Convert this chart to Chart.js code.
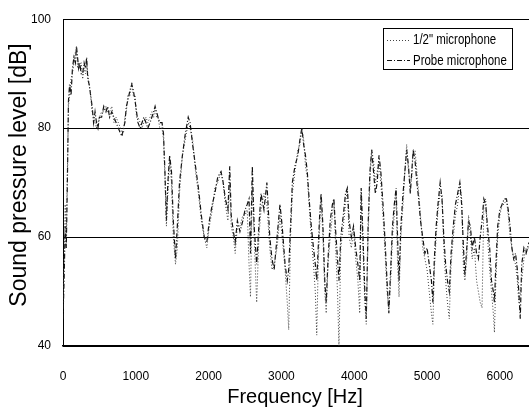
<!DOCTYPE html>
<html>
<head>
<meta charset="utf-8">
<script src="https://cdn.jsdelivr.net/npm/chart.js@4.4.1/dist/chart.umd.min.js"></script>
<style>
  html, body { margin: 0; padding: 0; background: #fff; }
  #wrap { position: relative; width: 529px; height: 408px; }
</style>
</head>
<body>
<div id="wrap"><canvas id="spl" width="529" height="408"></canvas></div>
<script>
// frequency points [Hz]
const freq = [
  0, 15, 30, 45, 60, 75, 90, 110, 130, 150,
  170, 185, 200, 215, 230, 250, 270, 290, 310, 325,
  340, 360, 380, 400, 420, 440, 460, 480, 500, 530,
  560, 590, 615, 640, 670, 700, 730, 760, 790, 810,
  830, 850, 870, 890, 920, 945, 965, 990, 1010, 1030,
  1060, 1085, 1110, 1140, 1165, 1195, 1220, 1245, 1265, 1285,
  1305, 1330, 1360, 1380, 1400, 1420, 1440, 1465, 1490, 1515,
  1545, 1570, 1600, 1640, 1680, 1720, 1745, 1780, 1820, 1860,
  1900, 1940, 1975, 2010, 2050, 2085, 2125, 2170, 2200, 2230,
  2265, 2290, 2310, 2340, 2365, 2395, 2430, 2470, 2500, 2530,
  2555, 2575, 2600, 2625, 2660, 2690, 2720, 2760, 2800, 2840,
  2870, 2900, 2940, 2980, 3010, 3050, 3080, 3100, 3125, 3150,
  3185, 3225, 3255, 3280, 3305, 3330, 3355, 3380, 3410, 3440,
  3465, 3485, 3505, 3525, 3545, 3570, 3595, 3615, 3640, 3670,
  3700, 3720, 3745, 3770, 3790, 3815, 3850, 3880, 3905, 3930,
  3960, 3990, 4020, 4050, 4075, 4095, 4120, 4145, 4165, 4190,
  4215, 4240, 4265, 4290, 4315, 4340, 4365, 4395, 4420, 4450,
  4475, 4500, 4525, 4550, 4575, 4595, 4615, 4640, 4670, 4695,
  4720, 4745, 4770, 4790, 4810, 4835, 4860, 4885, 4910, 4940,
  4970, 5000, 5030, 5060, 5080, 5100, 5125, 5150, 5180, 5205,
  5230, 5255, 5280, 5305, 5330, 5360, 5390, 5420, 5450, 5475,
  5500, 5520, 5545, 5570, 5595, 5620, 5650, 5680, 5705, 5730,
  5755, 5780, 5805, 5830, 5860, 5885, 5910, 5925, 5945, 5970,
  6000, 6030, 6060, 6090, 6115, 6140, 6165, 6190, 6215, 6240,
  6260, 6280, 6300, 6330, 6360, 6400
];

// probe microphone [dB]
const probeLevel = [
  45, 52, 62, 58, 70, 85, 88, 86, 91, 93,
  92, 95, 93, 91, 92, 90, 90, 92, 91, 93,
  89, 88, 86, 84, 81, 83, 81, 80, 82, 82,
  84, 83, 84, 82, 83, 82, 81, 80, 79, 78.5,
  80, 81, 84, 85, 87, 88, 87, 85, 83, 81,
  80, 81, 82, 81, 80, 81, 82, 83, 84, 83,
  82, 81, 81, 79, 72, 63, 70, 75, 72, 63,
  56, 62, 70, 75, 79, 82, 81, 77, 73, 69,
  64, 60, 59, 63, 66, 68, 71, 72, 70, 67,
  65, 73, 64, 61, 59, 63, 61, 63, 65, 66,
  67, 57, 73, 62, 55, 62, 68, 65, 70, 60,
  56, 54, 60, 66, 62, 55, 52, 54, 62, 70,
  73, 75, 78, 80, 77, 75, 72, 67, 62, 58,
  55, 52, 58, 64, 68, 62, 52, 48, 56, 63,
  66, 67, 61, 56, 52, 60, 64, 68, 69, 63,
  60, 62, 58, 55, 52, 69, 60, 50, 45, 62,
  72, 76, 72, 68, 70, 75, 72, 66, 60, 52,
  46, 54, 62, 66, 69, 60, 52, 62, 68, 72,
  76, 73, 68, 72, 76, 74, 70, 67, 63, 60,
  57, 58, 55, 52, 48, 56, 62, 66, 70, 67,
  60, 55, 52, 50, 57, 62, 66, 68, 70, 66,
  58, 53, 58, 63, 62, 58, 60, 57, 56, 60,
  63, 67, 66, 62, 58, 52, 50, 48, 55, 62,
  65, 66, 67, 67, 65, 62, 58, 56, 57, 54,
  50, 45, 55, 58, 57, 59
];

// 1/2" microphone [dB]
const halfInchLevel = [
  48, 56, 66, 60, 72, 84, 86, 89, 90, 92,
  94, 95, 91, 92, 91, 92, 89, 91, 90, 92,
  90, 88, 86, 83, 82, 81, 80, 81, 82, 83,
  83, 84, 83, 83, 84, 81, 82, 81, 80, 79,
  79, 82, 83, 86, 86, 88.5, 86, 86, 82, 82,
  81, 80, 81, 82, 81, 82, 83, 82, 84, 82,
  82, 80, 80, 78, 71, 62, 68, 74, 70, 60,
  55, 58, 68, 75, 78, 81, 80, 78, 72, 68,
  63, 60, 58, 62, 65, 69, 70, 72, 70, 66,
  63, 70, 62, 60, 57, 62, 62, 64, 64, 65,
  55, 49, 70, 60, 48, 60, 65, 68, 66, 58,
  54, 55, 58, 64, 60, 54, 48, 43, 60, 68,
  72, 76, 77, 80, 78, 73, 71, 66, 60, 55,
  50, 42, 55, 62, 67, 60, 50, 46, 55, 60,
  64, 67, 58, 50, 40, 58, 62, 66, 69, 60,
  58, 61, 56, 52, 46, 68, 58, 48, 44, 60,
  70, 76, 74, 70, 72, 74, 70, 64, 58, 50,
  47, 52, 60, 64, 68, 55, 49, 60, 66, 72,
  77, 72, 70, 71, 76, 76, 72, 68, 64, 58,
  56, 54, 50, 46, 44, 54, 60, 65, 68, 68,
  58, 52, 48, 45, 55, 60, 64, 66, 70, 67,
  54, 52, 56, 64, 60, 56, 58, 52, 50, 48,
  47, 66, 67, 60, 54, 50, 46, 42.5, 52, 60,
  64, 66, 66, 67, 64, 60, 58, 56, 55, 52,
  48, 50, 52, 56, 58, 58
];

const xTicks = [0, 1000, 2000, 3000, 4000, 5000, 6000];
const yTicks = [40, 60, 80, 100];
const seriesNames = ['1/2" microphone', 'Probe microphone'];

const sans = '"Liberation Sans", Arial, sans-serif';

function pts(levels) {
  return freq.map((f, i) => ({ x: f, y: levels[i] }));
}

// legend box + axis titles drawn on top
const overlay = {
  id: 'overlay',
  afterDraw(chart) {
    const ctx = chart.ctx;
    ctx.save();
    // legend
    ctx.lineWidth = 1;
    ctx.strokeStyle = '#000';
    ctx.setLineDash([]);
    ctx.strokeRect(383.5, 28.5, 129, 41);
    ctx.strokeStyle = '#444';
    ctx.setLineDash([1, 2]);
    ctx.beginPath(); ctx.moveTo(387, 40.5); ctx.lineTo(410, 40.5); ctx.stroke();
    ctx.strokeStyle = '#111';
    ctx.setLineDash([5, 2, 1, 2]);
    ctx.beginPath(); ctx.moveTo(387, 60.5); ctx.lineTo(410, 60.5); ctx.stroke();
    ctx.setLineDash([]);
    ctx.fillStyle = '#000';
    ctx.font = '14px ' + sans;
    ctx.textBaseline = 'middle';
    ctx.textAlign = 'left';
    // squeeze horizontally, the original uses a narrow face
    ctx.save();
    ctx.translate(413, 0);
    ctx.scale(0.82, 1);
    ctx.fillText(seriesNames[0], 0, 40);
    ctx.fillText(seriesNames[1], 0, 61);
    ctx.restore();
    // axis titles
    ctx.textAlign = 'center';
    ctx.textBaseline = 'alphabetic';
    ctx.font = '20px ' + sans;
    ctx.fillText('Frequency [Hz]', 295, 403);
    ctx.translate(26, 175);
    ctx.rotate(-Math.PI / 2);
    ctx.font = '23px ' + sans;
    ctx.fillText('Sound pressure level [dB]', 0, 0);
    ctx.restore();
  }
};

new Chart(document.getElementById('spl'), {
  type: 'line',
  data: {
    datasets: [
      {
        label: seriesNames[0],
        data: pts(halfInchLevel),
        borderColor: '#3a3a3a',
        borderWidth: 1,
        borderDash: [1, 2],
        pointRadius: 0,
        tension: 0
      },
      {
        label: seriesNames[1],
        data: pts(probeLevel),
        borderColor: '#111',
        borderWidth: 1.2,
        borderDash: [5, 2, 1, 2],
        pointRadius: 0,
        tension: 0
      }
    ]
  },
  options: {
    responsive: false,
    animation: false,
    layout: { padding: { top: 9, right: 0, left: 0, bottom: 0 } },
    plugins: { legend: { display: false }, tooltip: { enabled: false } },
    scales: {
      x: {
        type: 'linear',
        min: 0,
        max: 6400,
        afterBuildTicks: s => { s.ticks = xTicks.map(v => ({ value: v })); },
        afterFit: s => { s.height = 62; },
        grid: { display: false },
        border: { display: true, color: '#000', width: 1.5 },
        ticks: { color: '#000', font: { family: sans, size: 12 }, padding: 15, maxRotation: 0, callback: v => String(v) }
      },
      y: {
        min: 40,
        max: 100,
        afterBuildTicks: s => { s.ticks = yTicks.map(v => ({ value: v })); },
        afterFit: s => { s.width = 63; },
        grid: { color: '#000', lineWidth: 1, drawTicks: false },
        border: { display: true, color: '#000', width: 1 },
        ticks: { color: '#000', font: { family: sans, size: 12 }, padding: 12, callback: v => String(v) }
      }
    }
  },
  plugins: [overlay]
});
</script>
</body>
</html>
